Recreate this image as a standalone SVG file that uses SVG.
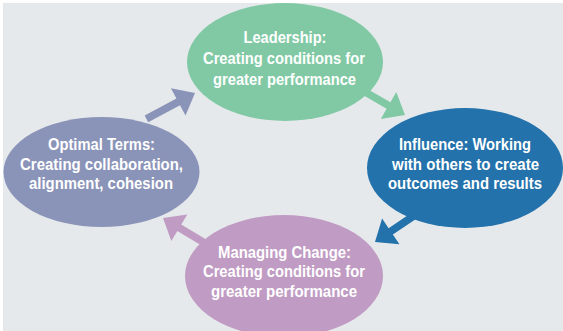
<svg xmlns="http://www.w3.org/2000/svg" width="563" height="331" viewBox="0 0 563 331">
<style>
.t{font-family:"Liberation Sans",Arial,sans-serif;font-weight:bold;font-size:16.5px;fill:#ffffff;text-anchor:middle}
</style>
<defs>
<path id="arr" d="M-55,-3.8 L-19,-3.8 L-19,-15.5 L0,0 L-19,15.5 L-19,3.8 L-55,3.8 Z"/>
</defs>
<rect x="0" y="0" width="563" height="331" fill="#ffffff"/>
<rect x="3" y="3" width="560" height="328" fill="#e6e9ec"/>
<g id="connectors">
<use href="#arr" fill="#80c9a4" transform="translate(405,115) rotate(30)"/>
<use href="#arr" fill="#2372ab" transform="translate(375,242) rotate(146)"/>
<use href="#arr" fill="#c09bc3" transform="translate(163,218) rotate(211)"/>
<use href="#arr" fill="#8a93b8" transform="translate(195,93) rotate(-28)"/>
</g>
<g id="leadership">
<ellipse cx="285" cy="62" rx="98" ry="59" fill="#80c9a4"/>
<text class="t" x="285" y="43" textLength="83" lengthAdjust="spacingAndGlyphs">Leadership:</text>
<text class="t" x="284" y="64" textLength="162" lengthAdjust="spacingAndGlyphs">Creating conditions for</text>
<text class="t" x="284.5" y="85" textLength="143" lengthAdjust="spacingAndGlyphs">greater performance</text>
</g>
<g id="influence">
<ellipse cx="465" cy="168" rx="98" ry="60" fill="#2372ab"/>
<text class="t" x="465" y="150" textLength="132" lengthAdjust="spacingAndGlyphs">Influence: Working</text>
<text class="t" x="465.5" y="170" textLength="147" lengthAdjust="spacingAndGlyphs">with others to create</text>
<text class="t" x="465" y="189" textLength="154" lengthAdjust="spacingAndGlyphs">outcomes and results</text>
</g>
<g id="optimal-terms">
<ellipse cx="101.5" cy="172" rx="98" ry="55" fill="#8a93b8"/>
<text class="t" x="101.5" y="150" textLength="107" lengthAdjust="spacingAndGlyphs">Optimal Terms:</text>
<text class="t" x="101.5" y="170" textLength="163" lengthAdjust="spacingAndGlyphs">Creating collaboration,</text>
<text class="t" x="101" y="189" textLength="144" lengthAdjust="spacingAndGlyphs">alignment, cohesion</text>
</g>
<g id="managing-change">
<ellipse cx="284" cy="276" rx="99" ry="61" fill="#c09bc3"/>
<text class="t" x="284.5" y="258" textLength="133" lengthAdjust="spacingAndGlyphs">Managing Change:</text>
<text class="t" x="284" y="277" textLength="162" lengthAdjust="spacingAndGlyphs">Creating conditions for</text>
<text class="t" x="284" y="297" textLength="146" lengthAdjust="spacingAndGlyphs">greater performance</text>
</g>
</svg>
